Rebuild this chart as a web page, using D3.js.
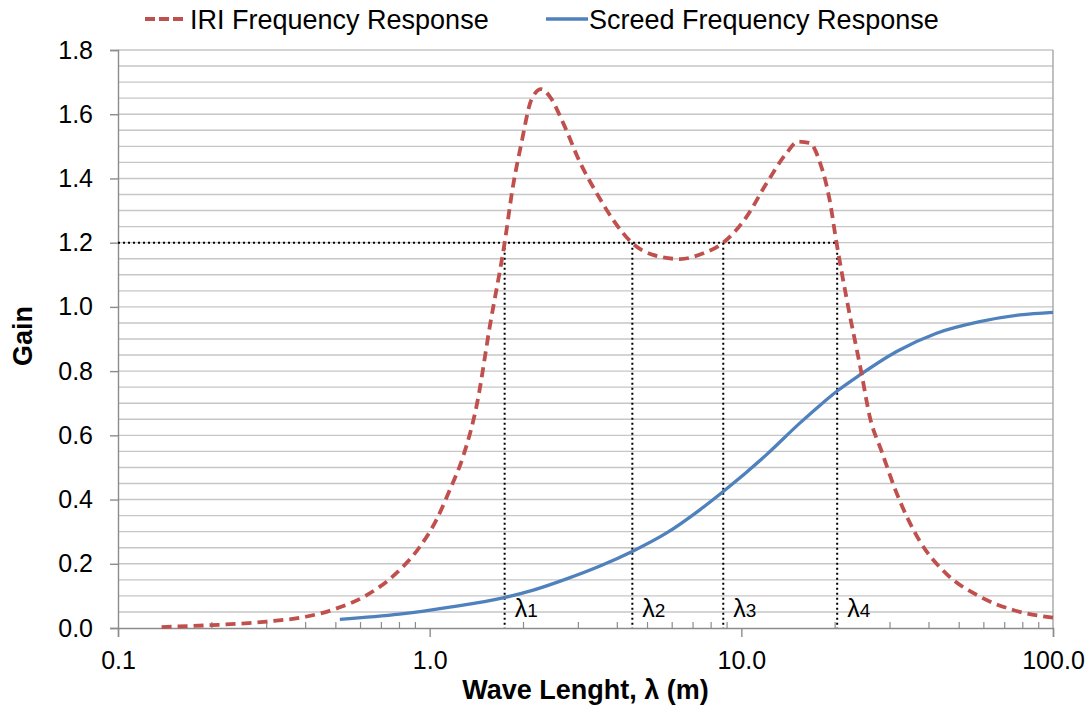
<!DOCTYPE html>
<html>
<head>
<meta charset="utf-8">
<title>IRI vs Screed Frequency Response</title>
<style>
  body, html { margin: 0; padding: 0; background: #fff; }
  svg { display: block; font-family: "Liberation Sans", Arial, sans-serif; }
  .tick-label { font-size: 25px; fill: #000; }
  .axis-title { font-size: 27px; font-weight: bold; fill: #000; }
  .legend-text { font-size: 27px; fill: #000; }
  .lambda { font-size: 25px; fill: #000; }
</style>
<script src="https://d3js.org/d3.v7.min.js"></script>
</head>
<body>
<svg width="1091" height="713"></svg>
<script>
// IRI frequency response (wavelength m, gain)
const iriWave = [0.138, 0.20, 0.30, 0.40, 0.50, 0.63, 0.78, 0.93, 1.05, 1.16, 1.28, 1.42, 1.56, 1.74, 1.85, 1.97, 2.12, 2.28, 2.43, 2.68, 3.04, 3.43, 3.88, 4.45, 5.21, 6.35, 7.55, 8.75, 10.4, 12.05, 13.97, 15.2, 16.6, 17.9, 19.2, 20.2, 21.8, 24.3, 25.8, 28.2, 31.5, 37.4, 45.6, 58.2, 74.5, 100];
const iriGain = [0.003, 0.009, 0.020, 0.035, 0.060, 0.103, 0.170, 0.253, 0.336, 0.43, 0.534, 0.70, 0.94, 1.20, 1.375, 1.51, 1.645, 1.678, 1.655, 1.573, 1.449, 1.355, 1.271, 1.20, 1.162, 1.149, 1.167, 1.20, 1.281, 1.385, 1.479, 1.515, 1.51, 1.448, 1.333, 1.20, 1.022, 0.793, 0.66, 0.55, 0.42, 0.27, 0.168, 0.098, 0.056, 0.032];

// Screed frequency response
const screedWave = [0.515, 0.80, 1.16, 1.72, 2.15, 2.75, 3.52, 4.50, 5.76, 7.36, 8.75, 12.05, 15.4, 17.9, 20.5, 24.0, 31.5, 42.3, 58.2, 78.3, 100];
const screedGain = [0.027, 0.043, 0.065, 0.094, 0.118, 0.153, 0.193, 0.240, 0.296, 0.368, 0.425, 0.540, 0.638, 0.694, 0.741, 0.788, 0.861, 0.918, 0.954, 0.975, 0.983];

// wavelengths where IRI gain crosses 1.2
const lambdaWave = [1.74, 4.47, 8.75, 20.3];
const lambdaNames = ["1", "2", "3", "4"];
const thresholdGain = 1.2;

const xTicks = [0.1, 1, 10, 100];
const yTicks = [0, 0.2, 0.4, 0.6, 0.8, 1.0, 1.2, 1.4, 1.6, 1.8];

const seriesNames = ["IRI Frequency Response", "Screed Frequency Response"];

const svg = d3.select("svg");
const margin = { top: 50, right: 38, bottom: 85, left: 118 };
const width = +svg.attr("width") - margin.left - margin.right;
const height = +svg.attr("height") - margin.top - margin.bottom;
const g = svg.append("g").attr("transform", `translate(${margin.left},${margin.top})`);

const x = d3.scaleLog().domain([0.1, 100]).range([0, width]);
const y = d3.scaleLinear().domain([0, 1.8]).range([height, 0]);

// horizontal grid every 0.05
const gridVals = d3.range(1, 37).map(i => i * 0.05);
g.selectAll(".grid")
  .data(gridVals)
  .enter().append("line")
  .attr("x1", 0).attr("x2", width)
  .attr("y1", d => y(d)).attr("y2", d => y(d))
  .attr("stroke", "#c6c6c6").attr("stroke-width", 1.4);

// right border
g.append("line")
  .attr("x1", width).attr("x2", width)
  .attr("y1", 0).attr("y2", height)
  .attr("stroke", "#a6a6a6").attr("stroke-width", 1.4);

// y axis
const yAxis = g.append("g")
  .call(d3.axisLeft(y).tickValues(yTicks).tickFormat(d3.format(".1f")).tickSize(8).tickPadding(17));
yAxis.select(".domain").attr("stroke", "#8c8c8c").attr("stroke-width", 1.4);
yAxis.selectAll(".tick line").attr("stroke", "#8c8c8c").attr("stroke-width", 1.4);
yAxis.selectAll(".tick text").attr("class", "tick-label").attr("font-family", null).attr("font-size", null);

// x axis, major ticks outside
const xAxis = g.append("g")
  .attr("transform", `translate(0,${height})`)
  .call(d3.axisBottom(x).tickValues(xTicks).tickFormat(d3.format(".1f")).tickSize(9).tickPadding(14));
xAxis.select(".domain").attr("stroke", "#8c8c8c").attr("stroke-width", 1.4);
xAxis.selectAll(".tick line").attr("stroke", "#8c8c8c").attr("stroke-width", 1.4);
xAxis.selectAll(".tick text").attr("class", "tick-label").attr("font-family", null).attr("font-size", null);

// minor ticks inside
const minorTicks = [];
[0.1, 1, 10].forEach(base => { for (let k = 2; k <= 9; k++) minorTicks.push(base * k); });
g.selectAll(".minor")
  .data(minorTicks)
  .enter().append("line")
  .attr("x1", d => x(d)).attr("x2", d => x(d))
  .attr("y1", height).attr("y2", height - 6)
  .attr("stroke", "#8c8c8c").attr("stroke-width", 1.2);

// threshold dotted lines
g.append("line")
  .attr("x1", 0).attr("x2", x(lambdaWave[3]))
  .attr("y1", y(thresholdGain)).attr("y2", y(thresholdGain))
  .attr("stroke", "#000").attr("stroke-width", 2).attr("stroke-dasharray", "2,3");
g.selectAll(".vdot")
  .data(lambdaWave)
  .enter().append("line")
  .attr("x1", d => x(d)).attr("x2", d => x(d))
  .attr("y1", y(thresholdGain)).attr("y2", height)
  .attr("stroke", "#000").attr("stroke-width", 2).attr("stroke-dasharray", "2,3");

// lambda labels
const lab = g.selectAll(".lambda")
  .data(lambdaWave)
  .enter().append("text")
  .attr("class", "lambda")
  .attr("x", d => x(d) + 10)
  .attr("y", height - 11);
lab.append("tspan").text("λ");
lab.append("tspan").attr("font-size", 19).text((d, i) => lambdaNames[i]);

const line = d3.line()
  .x(d => x(d[0]))
  .y(d => y(d[1]))
  .curve(d3.curveMonotoneX);

const screedData = screedWave.map((w, i) => [w, screedGain[i]]);
const iriData = iriWave.map((w, i) => [w, iriGain[i]]);

g.append("path")
  .datum(screedData)
  .attr("d", line)
  .attr("fill", "none")
  .attr("stroke", "#4f81bd")
  .attr("stroke-width", 3.3);

g.append("path")
  .datum(iriData)
  .attr("d", line)
  .attr("fill", "none")
  .attr("stroke", "#c0504d")
  .attr("stroke-width", 3.8)
  .attr("stroke-dasharray", "10,6");

// axis titles
svg.append("text")
  .attr("class", "axis-title")
  .attr("x", margin.left + width / 2)
  .attr("y", 699)
  .attr("text-anchor", "middle")
  .text("Wave Lenght, λ (m)");
svg.append("text")
  .attr("class", "axis-title")
  .attr("transform", `translate(32,${margin.top + height / 2 - 3}) rotate(-90)`)
  .attr("text-anchor", "middle")
  .text("Gain");

// legend
const legend = svg.append("g");
legend.append("line")
  .attr("x1", 145).attr("x2", 183).attr("y1", 19).attr("y2", 19)
  .attr("stroke", "#c0504d").attr("stroke-width", 3.8).attr("stroke-dasharray", "10,4");
legend.append("text").attr("class", "legend-text").attr("x", 190).attr("y", 29).text(seriesNames[0]);
legend.append("line")
  .attr("x1", 546).attr("x2", 588).attr("y1", 19).attr("y2", 19)
  .attr("stroke", "#4f81bd").attr("stroke-width", 3.3);
legend.append("text").attr("class", "legend-text").attr("x", 589).attr("y", 29).text(seriesNames[1]);
</script>
</body>
</html>
